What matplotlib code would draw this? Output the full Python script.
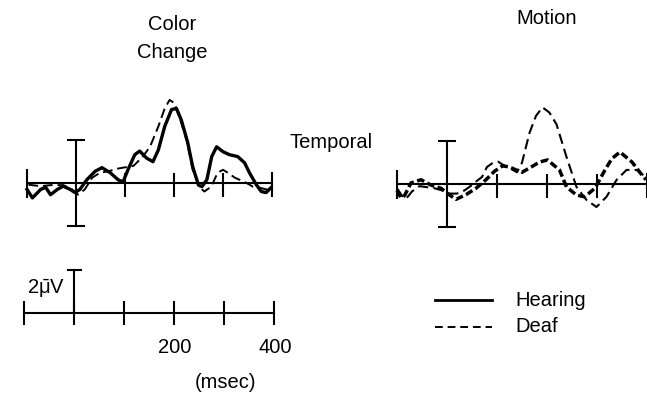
import matplotlib
matplotlib.use("Agg")
import matplotlib.pyplot as plt
import numpy as np

plt.rcParams["font.family"] = ["Liberation Sans", "DejaVu Sans"]
plt.rcParams["mathtext.fontset"] = "custom"
plt.rcParams["mathtext.rm"] = "Liberation Sans"
plt.rcParams["mathtext.it"] = "Liberation Sans"

# ── Datos (ms, µV) ────────────────────────────────────────────────────────────

color_hearing_t = [-100, -89, -72, -62, -52, -38, -26, -12, -2, 8, 22, 39, 53, 70, 86, 96,
                   106, 120, 130, 144, 157, 168, 181, 195, 205, 215, 228, 238, 250, 257,
                   267, 277, 287, 300, 313, 330, 344, 354, 368, 378, 388, 398]
color_hearing_v = [-0.3, -0.7, -0.3, -0.2, -0.55, -0.3, -0.15, -0.3, -0.45, -0.3, 0.15, 0.55,
                   0.72, 0.48, 0.15, 0.05, 0.62, 1.33, 1.5, 1.17, 1.0, 1.55, 2.65, 3.45, 3.5,
                   2.95, 1.9, 0.78, -0.1, -0.17, 0.15, 1.24, 1.7, 1.47, 1.33, 1.24, 0.95,
                   0.48, -0.08, -0.4, -0.45, -0.22]

color_deaf_t = [-97, -72, -52, -26, -8, 4, 18, 33, 49, 66, 84, 96, 117, 135, 151, 168, 181,
                191, 201, 211, 226, 238, 252, 262, 276, 289, 300, 310, 324, 334, 348, 361,
                374, 388, 398]
color_deaf_v = [-0.08, -0.15, -0.1, -0.1, -0.3, -0.55, -0.3, 0.25, 0.48, 0.55, 0.67, 0.72,
                0.8, 1.2, 1.7, 2.65, 3.5, 3.9, 3.75, 3.1, 2.0, 0.63, -0.2, -0.4, -0.17, 0.48,
                0.62, 0.48, 0.25, 0.15, 0.0, -0.17, -0.22, -0.3, -0.3]

motion_hearing_t = [-100, -92, -85, -72, -52, -32, -12, 4, 18, 38, 58, 78, 95, 111, 125, 138,
                    150, 165, 185, 201, 225, 239, 259, 275, 296, 316, 330, 346, 370, 390, 398]
motion_hearing_v = [-0.3, -0.65, -0.55, 0.05, 0.2, -0.05, -0.2, -0.5, -0.72, -0.5, -0.2, 0.2,
                    0.6, 0.85, 0.8, 0.66, 0.55, 0.75, 1.03, 1.13, 0.66, -0.14, -0.52, -0.6,
                    -0.2, 0.66, 1.2, 1.5, 1.03, 0.42, 0.2]

motion_deaf_t = [-100, -90, -82, -70, -55, -40, -25, -10, 5, 20, 35, 50, 60, 70, 80, 92, 102,
                 112, 125, 140, 150, 165, 178, 191, 205, 219, 239, 259, 279, 299, 319, 339,
                 359, 379, 400]
motion_deaf_v = [-0.2, -0.55, -0.7, -0.35, -0.1, -0.15, -0.2, -0.3, -0.45, -0.45, -0.3, -0.05,
                 0.15, 0.33, 0.8, 1.0, 1.05, 0.9, 0.75, 0.55, 1.0, 2.4, 3.2, 3.6, 3.35, 2.8,
                 1.27, -0.14, -0.75, -1.08, -0.6, 0.19, 0.66, 0.66, 0.28]

tick_times = [100, 200, 300]
scale_ticks = [-100, 0, 100, 200, 300, 400]
scale_labels = {200: "200", 400: "400"}

# ── Geometría (píxeles de la imagen) ──────────────────────────────────────────

W, H = 647, 393
PX_UV = 21.3
AX_LW = 1.5
FS = 14.5

fig = plt.figure(figsize=(W / 100, H / 100), dpi=100)


def panel(x_m100, x_400, base_y, up=4.6, down=2.4):
    """Ejes con -100..400 ms entre x_m100 y x_400 px, línea base en base_y px."""
    top = base_y - up * PX_UV
    bot = base_y + down * PX_UV
    ax = fig.add_axes([x_m100 / W, 1 - bot / H, (x_400 - x_m100) / W, (bot - top) / H])
    ax.set_xlim(-100, 400)
    ax.set_ylim(-down, up)
    ax.axis("off")
    return ax


def ejes_erp(ax):
    kw = dict(color="k", lw=AX_LW, clip_on=False, solid_capstyle="butt")
    ax.plot([-100, 400], [0, 0], **kw)
    ax.plot([0, 0], [-2, 2], **kw)
    ax.plot([-18, 18], [2, 2], **kw)
    ax.plot([-18, 18], [-2, -2], **kw)
    for t in tick_times:
        ax.plot([t, t], [-0.65, 0.45], **kw)
    ax.plot([-100, -100], [-0.7, 0.67], **kw)
    ax.plot([400, 400], [-0.65, 0.5], **kw)


ax1 = panel(27, 272, 183)
ejes_erp(ax1)
ax1.plot(color_hearing_t, color_hearing_v, color="k", lw=2.4, clip_on=False,
         solid_joinstyle="round")
ax1.plot(color_deaf_t, color_deaf_v, color="k", lw=1.4, ls=(0, (5, 2.5)), clip_on=False)

ax2 = panel(397, 647, 184)
ejes_erp(ax2)
ax2.plot(motion_hearing_t, motion_hearing_v, color="k", lw=2.5, ls=(0, (2.2, 1.0)),
         clip_on=False)
ax2.plot(motion_deaf_t, motion_deaf_v, color="k", lw=1.5, ls=(0, (5, 2.5)), clip_on=False)

# Barra de escala
ax3 = panel(24, 274, 313, up=3.0, down=2.0)
kw = dict(color="k", lw=AX_LW, clip_on=False, solid_capstyle="butt")
ax3.plot([-100, 400], [0, 0], **kw)
for t in scale_ticks:
    ax3.plot([t, t], [-0.57, 0.57], **kw)
ax3.plot([0, 0], [0, 2], **kw)
ax3.plot([-14, 16], [2, 2], **kw)
for t, lab in scale_labels.items():
    ax3.text(t + 2, -1.6, lab, ha="center", va="center", fontsize=FS)
ax3.text(-18, 1.17, r"2$\bar{\mu}$V", ha="right", va="center", fontsize=FS)


def ftext(x, y, s, **kw):
    fig.text(x / W, 1 - y / H, s, fontsize=FS, va="center", **kw)


ftext(172, 25, "Color", ha="center")
ftext(172, 52, "Change", ha="center")
ftext(547, 18, "Motion", ha="center")
ftext(290, 142, "Temporal", ha="left")
ftext(225, 382, "(msec)", ha="center")

# Leyenda
leg = fig.add_axes([435 / W, 1 - 340 / H, (492 - 435) / W, 50 / H])
leg.set_xlim(0, 1)
leg.set_ylim(340, 290)
leg.axis("off")
leg.plot([0, 1], [300, 300], color="k", lw=2.0, clip_on=False)
leg.plot([0, 1], [327, 327], color="k", lw=1.4, ls=(0, (4, 2.5)), clip_on=False)
ftext(515, 300, "Hearing", ha="left")
ftext(515, 327, "Deaf", ha="left")

fig.savefig("out.png", dpi=100)
